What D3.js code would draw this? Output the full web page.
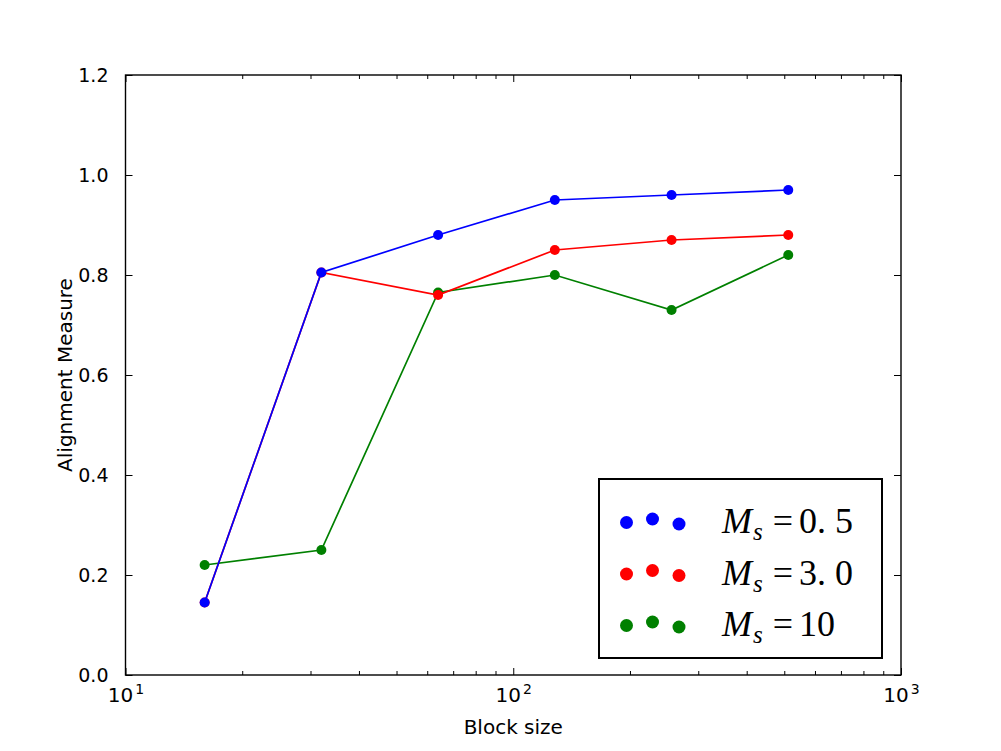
<!DOCTYPE html>
<html>
<head>
<meta charset="utf-8">
<script src="https://cdn.jsdelivr.net/npm/d3@7"></script>
<style>
  body { margin: 0; background: #fff; }
  text { font-family: "DejaVu Sans", sans-serif; fill: #000; }
  .legend-text { font-family: "Liberation Serif", "DejaVu Serif", serif; }
</style>
</head>
<body>
<div id="chart"></div>
<script>
// block sizes (x, log scale)
var blockSizes = [16, 32, 64, 128, 256, 512];

// alignment measure for each M_s
var seriesNames = ["0.5", "3.0", "10"];
var seriesColors = ["#0000ff", "#ff0000", "#008000"];
var alignBlue  = [0.145, 0.805, 0.88, 0.95, 0.96, 0.97];
var alignRed   = [0.145, 0.805, 0.76, 0.85, 0.87, 0.88];
var alignGreen = [0.22, 0.25, 0.765, 0.80, 0.73, 0.84];

var yTicks = [0.0, 0.2, 0.4, 0.6, 0.8, 1.0, 1.2];
var xMajor = [10, 100, 1000];
var xMinor = [20, 30, 40, 50, 60, 70, 80, 90, 200, 300, 400, 500, 600, 700, 800, 900];

var series = [
  { name: seriesNames[0], color: seriesColors[0], values: alignBlue },
  { name: seriesNames[1], color: seriesColors[1], values: alignRed },
  { name: seriesNames[2], color: seriesColors[2], values: alignGreen }
];

var margin = { top: 75, right: 100, bottom: 76, left: 125.5 };
var width = 1001 - margin.left - margin.right,
    height = 751 - margin.top - margin.bottom;

var svg = d3.select("#chart").append("svg")
  .attr("width", 1001)
  .attr("height", 751)
  .append("g")
  .attr("transform", "translate(" + margin.left + "," + margin.top + ")");

var x = d3.scaleLog().domain([10, 1000]).range([0, width]);
var y = d3.scaleLinear().domain([0, 1.2]).range([height, 0]);

// lines and dots, drawn so blue ends on top
var line = d3.line()
  .x(function (d, i) { return x(blockSizes[i]); })
  .y(function (d) { return y(d); });

var drawOrder = series.slice().reverse();
drawOrder.forEach(function (s) {
  svg.append("path")
    .datum(s.values)
    .attr("fill", "none")
    .attr("stroke", s.color)
    .attr("stroke-width", 1.7)
    .attr("d", line);

  svg.selectAll(null)
    .data(s.values)
    .enter().append("circle")
    .attr("cx", function (d, i) { return x(blockSizes[i]); })
    .attr("cy", function (d) { return y(d); })
    .attr("r", 5)
    .attr("fill", s.color);
});

// y axis (ticks inside, both sides)
var yAxisL = d3.axisLeft(y).tickValues(yTicks).tickFormat(d3.format(".1f"))
  .tickSizeInner(-7).tickSizeOuter(0).tickPadding(17);
var gy = svg.append("g").call(yAxisL);
gy.selectAll("text").style("font-size", "19px");

var yAxisR = d3.axisRight(y).tickValues(yTicks).tickFormat("")
  .tickSizeInner(-7).tickSizeOuter(0);
svg.append("g").attr("transform", "translate(" + width + ",0)").call(yAxisR);

// x axis major ticks with 10^n labels
var gx = svg.append("g").attr("transform", "translate(0," + height + ")")
  .call(d3.axisBottom(x).tickValues(xMajor).tickFormat("")
    .tickSizeInner(-7).tickSizeOuter(0));
gx.selectAll(".tick").append("text")
  .attr("y", 27)
  .attr("text-anchor", "middle")
  .style("font-size", "20px")
  .each(function (d) {
    var t = d3.select(this);
    t.append("tspan").text("10");
    t.append("tspan").attr("dy", -8).attr("dx", 2).style("font-size", "14px").text(Math.round(Math.log10(d)));
  });
svg.append("g").attr("transform", "translate(0," + height + ")")
  .call(d3.axisBottom(x).tickValues(xMinor).tickFormat("")
    .tickSizeInner(-4).tickSizeOuter(0));

// top axis ticks
svg.append("g")
  .call(d3.axisTop(x).tickValues(xMajor).tickFormat("").tickSizeInner(-7).tickSizeOuter(0));
svg.append("g")
  .call(d3.axisTop(x).tickValues(xMinor).tickFormat("").tickSizeInner(-4).tickSizeOuter(0));

svg.selectAll(".domain").remove();
svg.selectAll(".tick line").attr("stroke", "#000");

// frame
svg.append("rect")
  .attr("width", width).attr("height", height)
  .attr("fill", "none").attr("stroke", "#000").attr("stroke-width", 1.4);

// axis labels
svg.append("text")
  .attr("x", width / 2).attr("y", height + 59)
  .attr("text-anchor", "middle")
  .style("font-size", "20px")
  .text("Block size");

svg.append("text")
  .attr("transform", "translate(-54," + (height / 2) + ") rotate(-90)")
  .attr("text-anchor", "middle")
  .style("font-size", "20px")
  .text("Alignment Measure");

// legend
var legX = 473.5, legY = 404, legW = 283, legH = 179;
var legend = svg.append("g").attr("transform", "translate(" + legX + "," + legY + ")");
legend.append("rect")
  .attr("width", legW).attr("height", legH)
  .attr("fill", "#fff").attr("stroke", "#000").attr("stroke-width", 2);

var dotDx = [27.5, 53.5, 80];
var dotDy = [0.5, -3, 2];
series.forEach(function (s, i) {
  var rowY = 43 + i * 51.5;
  legend.selectAll(null)
    .data(dotDx)
    .enter().append("circle")
    .attr("cx", function (d) { return d; })
    .attr("cy", function (d, j) { return rowY + dotDy[j]; })
    .attr("r", 6.5)
    .attr("fill", s.color);

  var t = legend.append("text")
    .attr("class", "legend-text")
    .attr("x", 123)
    .attr("y", rowY + 11)
    .style("font-size", "36px");
  t.append("tspan").style("font-style", "italic").text("M");
  t.append("tspan").style("font-style", "italic").style("font-size", "25px")
    .attr("dy", 7).attr("dx", 1).text("s");
  t.append("tspan").attr("dy", -7).attr("dx", 10).text("=");
  t.append("tspan").attr("dx", 6).text(s.name.replace(".", ". "));
});
</script>
</body>
</html>
